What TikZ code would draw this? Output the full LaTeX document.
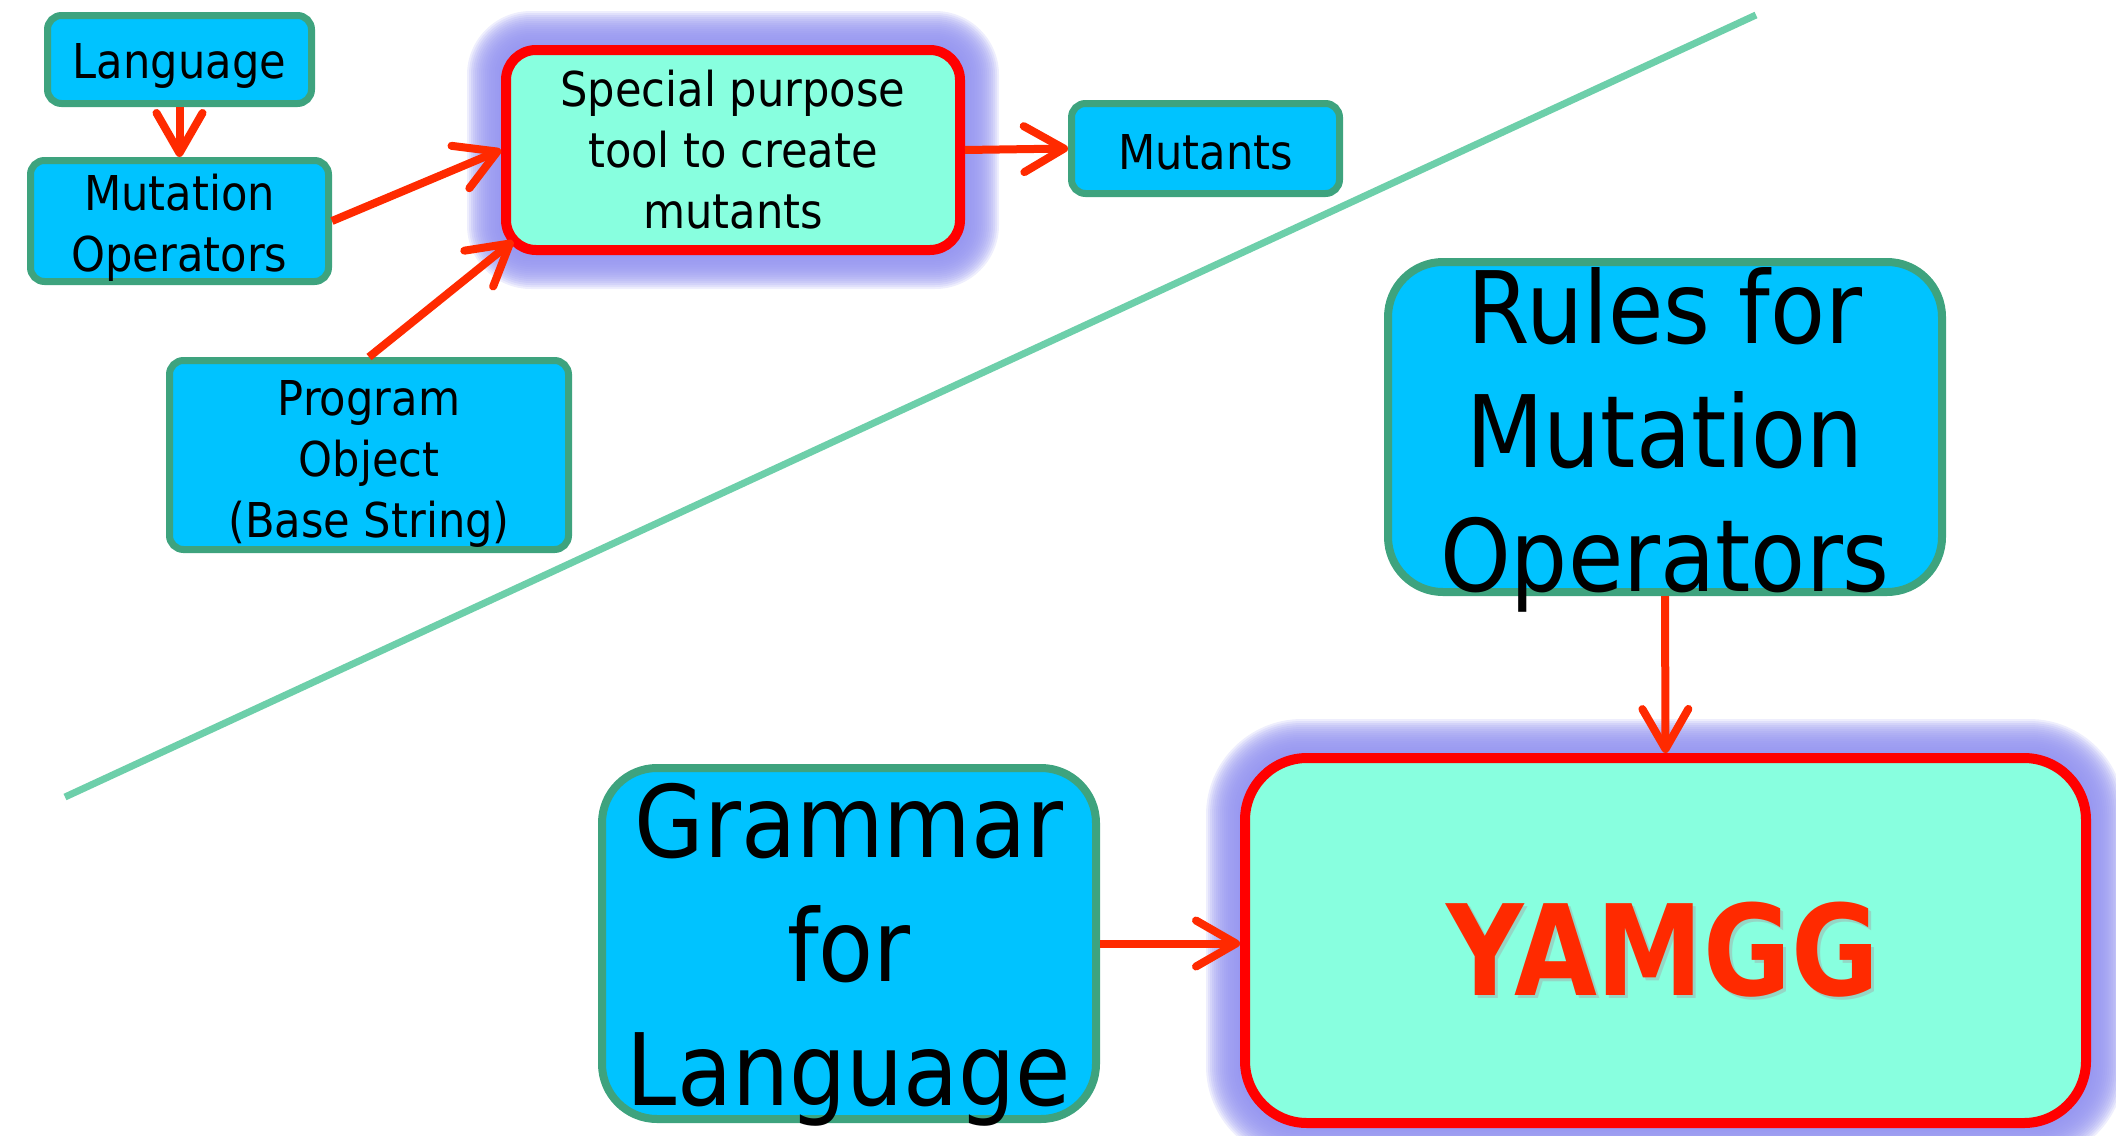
\documentclass[tikz,border=0pt]{standalone}
\usepackage{fontspec}
\usetikzlibrary{arrows.meta}
\newfontfamily\handfont[FakeStretch=0.9]{DejaVu Sans}
\newfontfamily\handbold[FakeStretch=0.85]{DejaVu Sans Bold}

\definecolor{boxfill}{HTML}{00C3FF}
\definecolor{boxline}{HTML}{3EA37E}
\definecolor{aqua}{HTML}{88FFDF}
\definecolor{redline}{HTML}{FF0000}
\definecolor{arrowred}{HTML}{FF2A00}
\definecolor{glowc}{HTML}{9494F0}
\definecolor{dividerc}{HTML}{6DCFAA}

\pgfdeclarelayer{background}
\pgfsetlayers{background,main}

% soft blue halo behind a node: #1 node name, #2 corner radius
\newcommand\glowaround[2]{%
  \foreach \r in {2,4,...,34}{%
    \pgfmathsetmacro\rr{#2+\r}%
    \fill[glowc, fill opacity=0.16, rounded corners=\rr pt]
      ([shift={(-\r,-\r)}]#1.north west) rectangle ([shift={(\r,\r)}]#1.south east);
  }}

\tikzset{
  smallbox/.style={draw=boxline, line width=7pt, fill=boxfill, rounded corners=14pt,
    inner sep=0pt},
  smalltext/.style={inner sep=0pt, align=center, text=black,
    font=\handfont\fontsize{48}{61}\selectfont},
  bigbox/.style={draw=boxline, line width=8pt, fill=boxfill, rounded corners=55pt,
    inner sep=0pt},
  bigtext/.style={inner sep=0pt, align=center, text=black,
    font=\handfont\fontsize{100}{124}\selectfont},
  toolbox/.style={draw=redline, line width=10pt, fill=aqua, inner sep=0pt},
  arr/.style={draw=arrowred, line width=8pt,
    -{Straight Barb[length=40pt, width=46pt, round]}},
  divider/.style={draw=dividerc, line width=7pt},
}

\begin{document}
\begin{tikzpicture}[x=1pt, y=-1pt]
\useasboundingbox (0,0) rectangle (2116,1135);

% dividing line
\coordinate (d1) at (65,797);
\coordinate (d2) at (1756,15);
\draw[divider] (d1) -- (d2);

% upper part: the special purpose tool
\node[smallbox, minimum width=264pt, minimum height=88pt] (lang) at (179.5,59.5) {};
\node[smallbox, minimum width=298pt, minimum height=121pt] (mutop) at (179.5,221) {};
\node[smallbox, minimum width=399pt, minimum height=189pt] (prog) at (369,455) {};
\node[toolbox, rounded corners=30pt, minimum width=454pt, minimum height=200pt] (tool) at (733,150) {};
\node[smallbox, minimum width=268pt, minimum height=90pt] (mutants) at (1205.5,148.5) {};

% lower part: YAMGG
\node[bigbox, minimum width=554pt, minimum height=330pt] (rules) at (1665,427) {};
\node[bigbox, minimum width=494pt, minimum height=351pt] (gram) at (849,943.5) {};
\node[toolbox, rounded corners=62pt, minimum width=841pt, minimum height=365pt] (yamgg) at (1665.5,940.5) {};

\begin{pgfonlayer}{background}
  \glowaround{tool}{30}
  \glowaround{yamgg}{62}
\end{pgfonlayer}

% box texts
\node[smalltext] (lang-txt) at (179.5,66) {Language};
\node[smalltext] (mutop-txt) at (179.5,228) {Mutation\\Operators};
\node[smalltext] (prog-txt) at (369,464) {Program\\Object\\(Base String)};
\node[smalltext] (tool-txt) at (733,150) {Special purpose\\tool to create\\mutants};
\node[smalltext] (mutants-txt) at (1205.5,152) {Mutants};
\node[bigtext] (rules-txt) at (1665,440) {Rules for\\Mutation\\Operators};
\node[bigtext] (gram-txt) at (849,955) {Grammar\\for\\Language};
\node[inner sep=0pt, anchor=base, text=black!35, opacity=0.45,
      font=\handbold\fontsize{126}{150}\selectfont] (yamgg-shadow) at (1666,998) {YAMGG};
\node[inner sep=0pt, anchor=base, text=arrowred,
      font=\handbold\fontsize{126}{150}\selectfont] (yamgg-txt) at (1663,995) {YAMGG};

% connectors
\draw[arr] (lang) -- (mutop);
\draw[arr] (mutop.east) -- (tool.west);
\draw[arr] (prog.north) -- ([shift={(12,-14)}]tool.south west);
\draw[arr] (tool.east) -- (mutants.west);
\draw[arr] (rules.south) -- (yamgg.north);
\draw[arr] (gram.east) -- (gram.east -| yamgg.west);
\end{tikzpicture}
\end{document}
